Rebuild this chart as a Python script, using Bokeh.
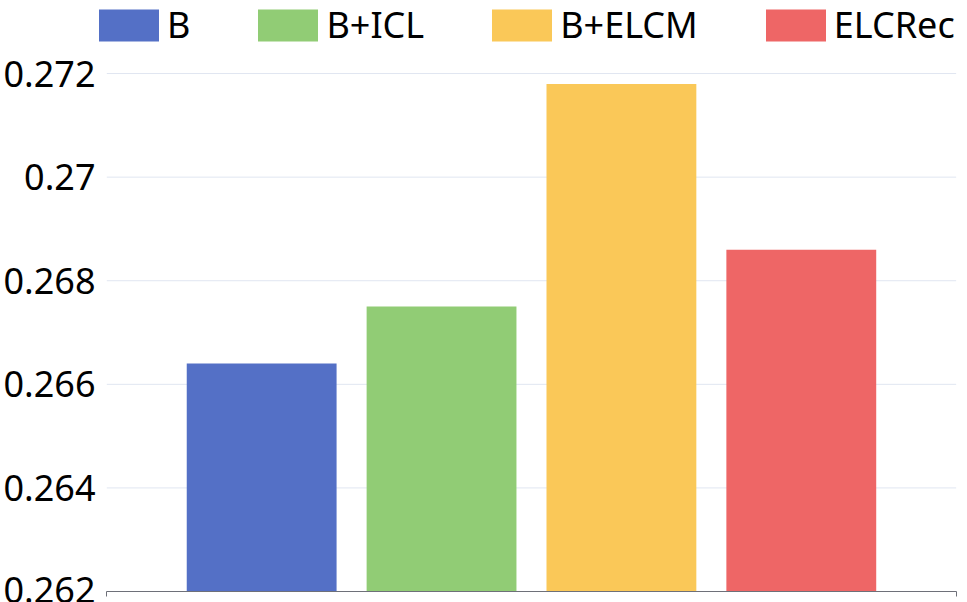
from bokeh.plotting import figure
from bokeh.models import (ColumnDataSource, Range1d, FixedTicker, Legend, LegendItem,
                          CustomJSTickFormatter)
from bokeh.embed import file_html
from bokeh.resources import INLINE

methods = ["B", "B+ICL", "B+ELCM", "ELCRec"]
values = [0.2664, 0.2675, 0.2718, 0.2686]
colors = ["#5470c6", "#91cc75", "#fac858", "#ee6666"]
y_ticks = [0.262, 0.264, 0.266, 0.268, 0.270, 0.272]
y_tick_labels = ["0.262", "0.264", "0.266", "0.268", "0.27", "0.272"]
y_min, y_max = 0.262, 0.272

# layout: plot area extends upward to hold the legend
y_view_top = 0.27341
cat_pad = 0.861                      # axis extends this far beyond outer bar centres
x_bounds = (-cat_pad, len(methods) - 1 + cat_pad)
x_view = (-0.946, len(methods) - 1 + 0.924)

src = ColumnDataSource(dict(pos=list(range(len(methods))), method=methods,
                            value=values, color=colors,
                            base=[y_min] * len(methods)))
grid_src = ColumnDataSource(dict(y=y_ticks, x0=[x_bounds[0]] * len(y_ticks),
                                 x1=[x_bounds[1]] * len(y_ticks)))

p = figure(width=967, height=602, output_backend="svg", toolbar_location=None,
           x_range=Range1d(*x_view), y_range=Range1d(y_min, y_view_top),
           min_border_left=0, min_border_right=0,
           min_border_top=0, min_border_bottom=11)
p.outline_line_color = None
p.background_fill_color = "white"
p.border_fill_color = "white"
p.xgrid.visible = False
p.ygrid.visible = False

# y axis
p.yaxis.ticker = FixedTicker(ticks=y_ticks)
p.yaxis.major_label_overrides = dict(zip(y_ticks, y_tick_labels))
p.yaxis.axis_line_color = None
p.yaxis.major_tick_line_color = None
p.yaxis.minor_tick_line_color = None
p.yaxis.major_label_text_font = "Noto Sans"
p.yaxis.major_label_text_font_size = "36px"
p.yaxis.major_label_text_color = "#000000"
p.yaxis.major_label_standoff = -10

# horizontal grid lines
p.segment(x0="x0", x1="x1", y0="y", y1="y", source=grid_src,
          line_color="#E0E6F1", line_width=1)

# x axis: line with end ticks only
p.xaxis.bounds = x_bounds
p.xaxis.ticker = FixedTicker(ticks=list(x_bounds))
p.xaxis.formatter = CustomJSTickFormatter(code="return ''")
p.xaxis.axis_line_color = "#6E7079"
p.xaxis.major_tick_line_color = "#6E7079"
p.xaxis.major_tick_out = 5
p.xaxis.major_tick_in = 0
p.xaxis.minor_tick_line_color = None
p.xaxis.major_label_standoff = 0

r = p.vbar(x="pos", top="value", bottom="base", width=0.833,
           fill_color="color", line_color=None, source=src)

items = [LegendItem(label=m, renderers=[r], index=i) for i, m in enumerate(methods)]
legend = Legend(items=items, orientation="horizontal", location="top_left",
                glyph_width=75, glyph_height=40, label_standoff=1, spacing=60,
                padding=0, margin=0, border_line_color=None,
                background_fill_alpha=0, label_text_font="Noto Sans",
                label_text_font_size="36px", label_height=40,
                label_text_color="#000000")
p.add_layout(legend, "center")

open("out.html", "w").write(file_html(p, INLINE))
